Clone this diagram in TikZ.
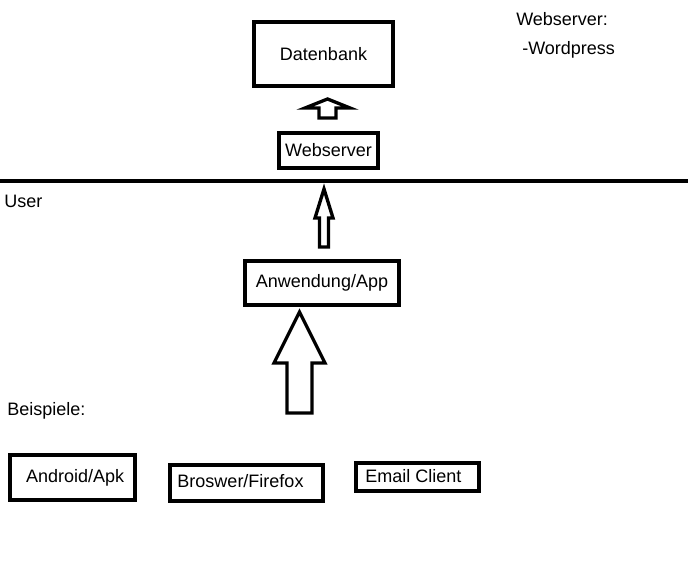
\documentclass[tikz,border=0pt]{standalone}
\usepackage{fontspec}
\setmainfont{Liberation Sans}
\usepackage{tikz}
\usetikzlibrary{positioning}
% hollow up arrow: x, tip y, head base y, tail y, head half width, shaft half width
\newcommand{\blockup}[6]{%
  \draw[blk] (#1,#2) -- (#1+#5,#3) -- (#1+#6,#3) -- (#1+#6,#4) -- (#1-#6,#4) -- (#1-#6,#3) -- (#1-#5,#3) -- cycle;}

\begin{document}
\begin{tikzpicture}[
  x=0.75pt, y=-0.75pt,
  box/.style  = {draw=black, line width=3pt, inner sep=0pt, align=center, font=\fontsize{13.5}{16}\selectfont},
  blk/.style  = {draw=black, line width=2.5pt, line join=miter, fill=white},
  txt/.style  = {inner sep=0pt, anchor=base west, font=\fontsize{13.5}{16}\selectfont},
]
\useasboundingbox (0,0) rectangle (688,573);
% server side
\node[box, minimum width=139*0.75pt, minimum height=64*0.75pt] (db) at (323.5,54) {Datenbank};
\node[box, minimum width=99*0.75pt, minimum height=35*0.75pt] (web) at (328.5,150.5) {Webserver};
\node[txt] (webinfo) at (516,26) {Webserver:};
\node[txt] (wp) at (522,55) {-Wordpress};
% border between server and user
\coordinate (lineL) at (0,181);
\coordinate (lineR) at (688,181);
\draw[line width=3pt] (lineL) -- (lineR);
\node[txt] (user) at (4,208) {User};
% client side
\node[box, minimum width=154*0.75pt, minimum height=44*0.75pt] (app) at (322,283) {Anwendung/App};
\node[txt] (bsp) at (7,415) {Beispiele:};
\node[box, minimum width=125*0.75pt, minimum height=45*0.75pt] (apk) at (72.5,477.5) {\hspace*{4pt}Android/Apk};
\node[box, minimum width=153*0.75pt, minimum height=36*0.75pt] (browser) at (246.5,483) {\raisebox{3pt}{Broswer/Firefox}\hspace*{9pt}};
\node[box, minimum width=123*0.75pt, minimum height=28*0.75pt] (mail) at (417.5,477) {\raisebox{2pt}{Email Client}\hspace*{6pt}};
% arrows
\blockup{327.5}{99}{108}{118}{22.5}{8.5}
\blockup{324}{189}{218}{247}{9}{4.5}
\blockup{299.5}{312}{363}{413}{25.5}{12.5}
\end{tikzpicture}
\end{document}
